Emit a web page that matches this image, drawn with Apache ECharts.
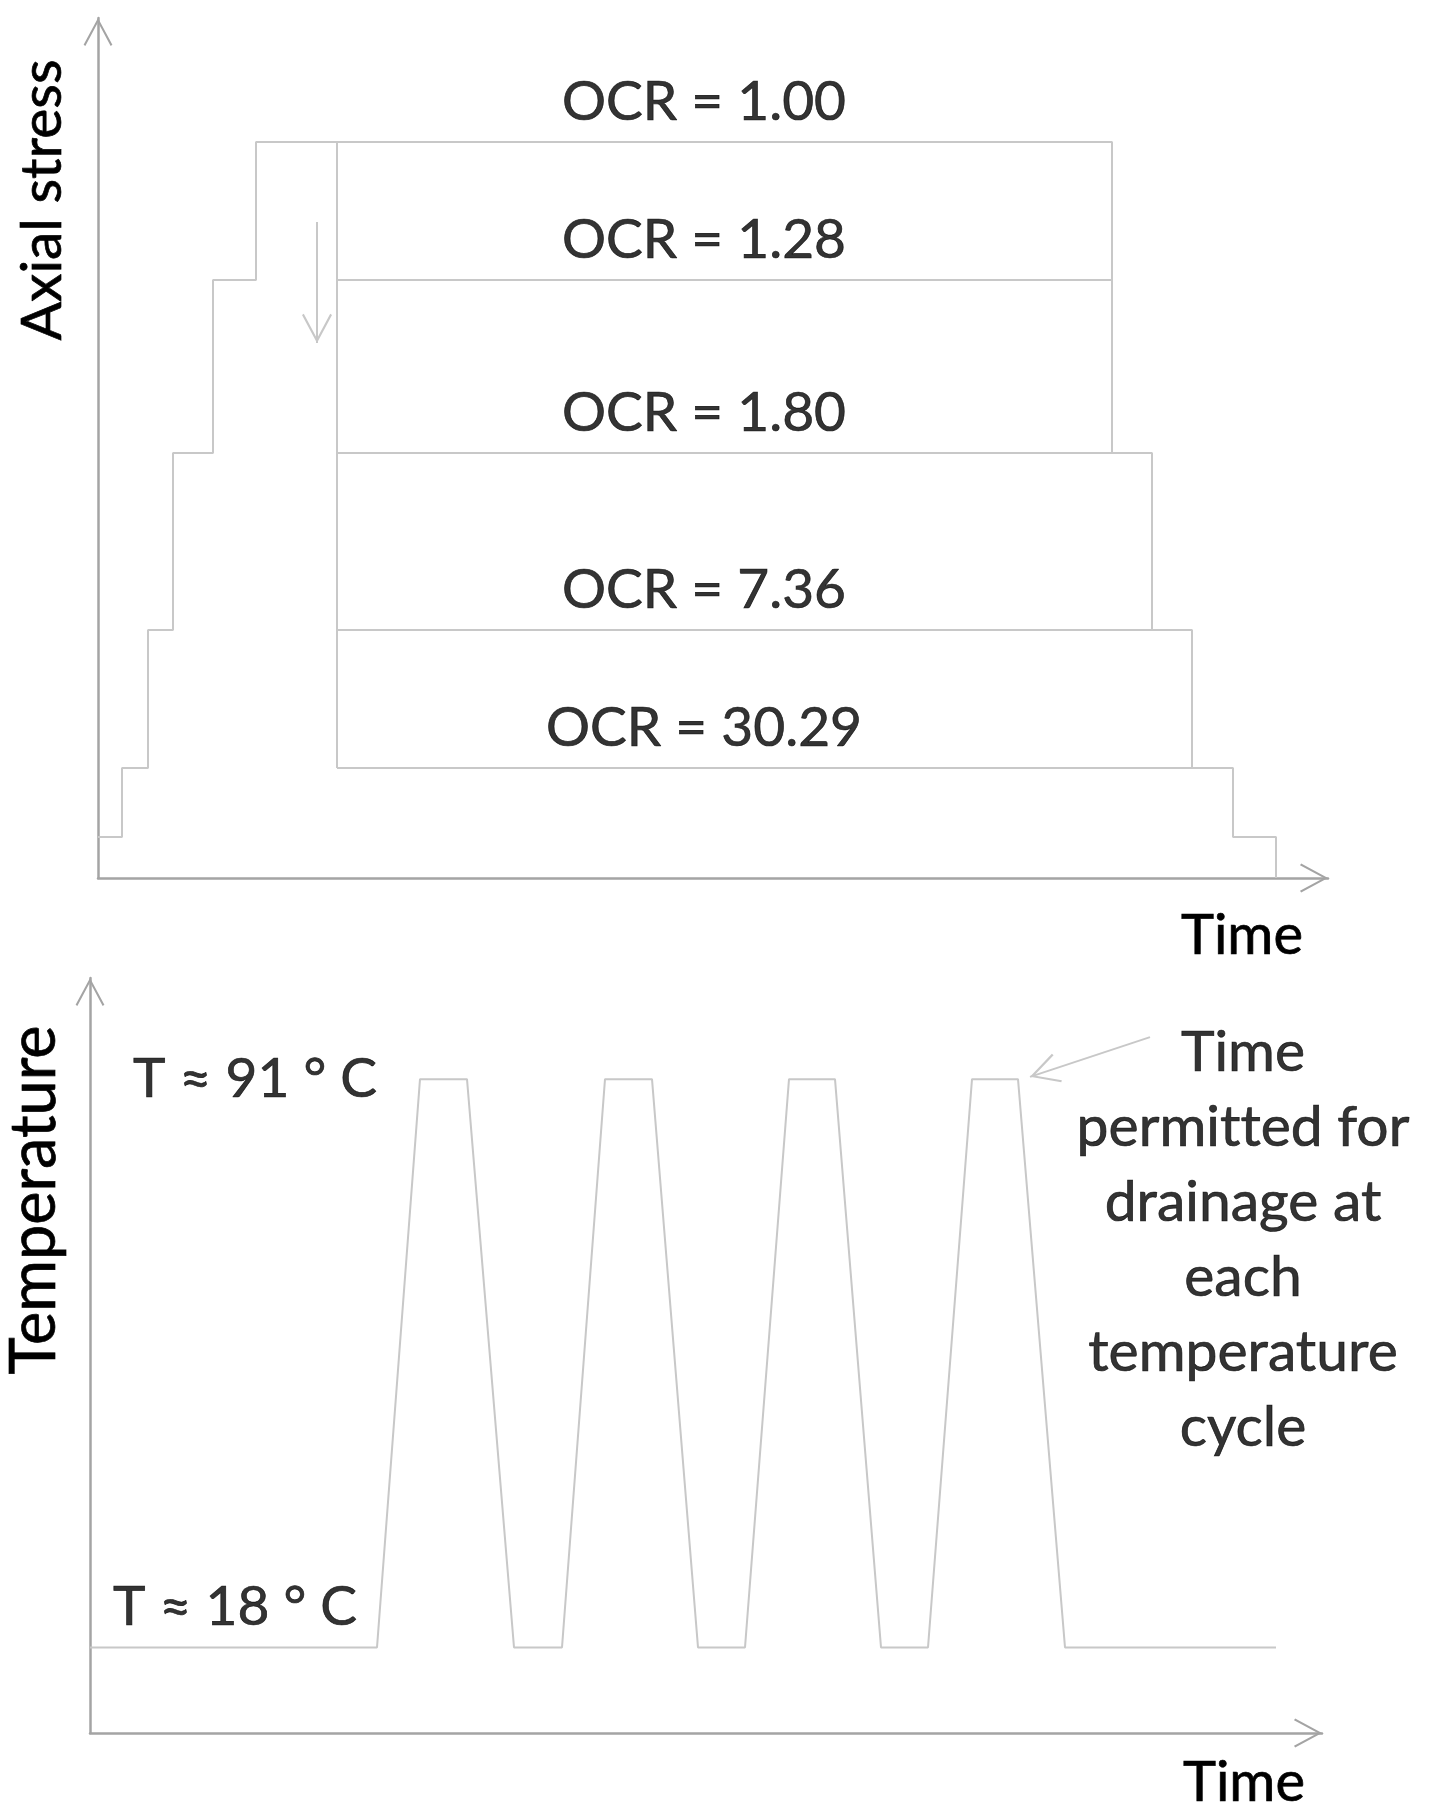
<!DOCTYPE html>
<html><head><meta charset="utf-8">
<script src="https://cdn.jsdelivr.net/npm/echarts@6/dist/echarts.min.js"></script>
<style>html,body{margin:0;padding:0;background:#fff}#c{width:1437px;height:1818px}</style>
</head><body><div id="c"></div>
<script>
// ---- Top panel: axial stress vs time (schematic units) ----
const stressLevels = [41, 110, 248, 425, 598, 736];
const loadStepTimes = [0, 24, 50, 75, 115, 158];
const unloadStepTimes = [1014, 1054, 1094, 1135, 1178];
const unloadStepLevels = [425, 248, 110, 41, 0];
const cycleStartTime = 239;
const ocrLabels = ['OCR = 1.00', 'OCR = 1.28', 'OCR = 1.80', 'OCR = 7.36', 'OCR = 30.29'];
const ocrLevels = [736, 598, 425, 248, 110];
const ocrLineEnds = [1014, 1014, 1054, 1094, 1135];
const ocrLabelTime = 606;
const unloadArrowTime = 219;
const unloadArrowStress = [656, 535];

// ---- Bottom panel: temperature (°C) vs time (schematic units) ----
const cycleTimes = [0, 287, 330, 377, 424, 472, 515, 562, 608, 655, 699, 745, 791, 838, 882, 928, 975, 1186];
const cycleTemps = [18, 18, 91, 91, 18, 18, 91, 91, 18, 18, 91, 91, 18, 18, 91, 91, 18, 18];
const tempLabels = ['T ≈ 91 ° C', 'T ≈ 18 ° C'];
const tempLabelTimes = [165, 145];
const tempLabelValues = [91, 18];
const noteLines = ['Time', 'permit\u200Cted for', 'drainage at', 'each', 'temperature', 'cycle'];
const notePoint = [1153, 70.3];
const noteArrowTimes = [1060, 940];
const noteArrowTemps = [96.4, 91.3];

// ---- styling ----
const LINE = '#c8c8c8';
const AXIS = '#a4a4a4';
const TEXT = '#000';
const FONT = 'Lato';
const TXT = { color: TEXT, fontFamily: FONT, textBorderColor: TEXT, textBorderWidth: 0.7 };
const CHEVRON = 'path://M15,0 L30,28 L28.2,29.2 L15,4.4 L1.8,29.2 L0,28 Z';
// same chevron, with its tip at the centre of the symbol box (tiny invisible anchor opposite)
const CHEVRON_C = 'path://M14.95,-29.2 L15.05,-29.2 L15,-29.15 Z M15,0 L30,28 L28.2,29.2 L15,4.4 L1.8,29.2 L0,28 Z';

// build top outline path
const outline = [];
for (let i = 0; i < stressLevels.length; i++) {
  outline.push([loadStepTimes[i], stressLevels[i]]);
  const next = i + 1 < loadStepTimes.length ? loadStepTimes[i + 1] : unloadStepTimes[0];
  outline.push([next, stressLevels[i]]);
}
for (let j = 0; j < unloadStepTimes.length; j++) {
  outline.push([unloadStepTimes[j], unloadStepLevels[j]]);
  if (j + 1 < unloadStepTimes.length) outline.push([unloadStepTimes[j + 1], unloadStepLevels[j]]);
}

function lineSeries(data, x, y, extra) {
  return Object.assign({
    type: 'line', xAxisIndex: x, yAxisIndex: y, data: data,
    showSymbol: false, symbol: 'none', silent: true, animation: false,
    lineStyle: { color: LINE, width: 2 }
  }, extra || {});
}
function arrowMark(xs, ys) {
  return {
    silent: true, animation: false,
    symbol: ['none', CHEVRON_C], symbolSize: [30, 58.4],
    label: { show: false },
    lineStyle: { color: LINE, width: 2, type: 'solid' },
    data: [[{ coord: [xs[0], ys[0]] }, { coord: [xs[1], ys[1]] }]]
  };
}

const series = [];
series.push(lineSeries(outline, 0, 0, {
  markLine: arrowMark([unloadArrowTime, unloadArrowTime], unloadArrowStress)
}));
series.push(lineSeries([[cycleStartTime, ocrLevels[0]], [cycleStartTime, ocrLevels[ocrLevels.length - 1]]], 0, 0));
for (let k = 1; k < ocrLevels.length; k++) {
  series.push(lineSeries([[cycleStartTime, ocrLevels[k]], [ocrLineEnds[k], ocrLevels[k]]], 0, 0));
}
series.push({
  type: 'scatter', xAxisIndex: 0, yAxisIndex: 0, silent: true, animation: false,
  symbol: 'circle', symbolSize: 1, itemStyle: { color: 'rgba(0,0,0,0)' },
  data: ocrLevels.map((v, i) => ({ value: [ocrLabelTime, v], name: ocrLabels[i] })),
  label: Object.assign({ show: true, position: 'top', distance: 12, formatter: p => p.name, fontSize: 55 }, TXT)
});

// bottom
series.push(lineSeries(cycleTimes.map((t, i) => [t, cycleTemps[i]]), 1, 1, {
  markLine: arrowMark(noteArrowTimes, noteArrowTemps)
}));
series.push({
  type: 'scatter', xAxisIndex: 1, yAxisIndex: 1, silent: true, animation: false,
  symbol: 'circle', symbolSize: 1, itemStyle: { color: 'rgba(0,0,0,0)' },
  data: tempLabels.map((s, i) => ({ value: [tempLabelTimes[i], tempLabelValues[i]], name: s,
    label: { position: i === 0 ? 'inside' : 'top', distance: 12 } })),
  label: Object.assign({ show: true, formatter: p => p.name, fontSize: 55 }, TXT)
});
series.push({
  type: 'scatter', xAxisIndex: 1, yAxisIndex: 1, silent: true, animation: false,
  symbol: 'circle', symbolSize: 1, itemStyle: { color: 'rgba(0,0,0,0)' },
  data: [{ value: notePoint, name: noteLines.join('\n') }],
  label: Object.assign({ show: true, position: 'inside', formatter: p => p.name, align: 'center',
    fontSize: 57, lineHeight: 75 }, TXT)
});

function axisLine() {
  return { show: true, onZero: false, symbol: ['none', CHEVRON], symbolSize: [30, 28], symbolOffset: [0, -14],
    lineStyle: { color: AXIS, width: 2.5 } };
}
const hidden = { axisTick: { show: false }, axisLabel: { show: false }, splitLine: { show: false } };

const option = {
  backgroundColor: '#fff',
  animation: false,
  grid: [
    { left: 98, right: 109, top: 18, bottom: 940 },
    { left: 90, right: 115, top: 978, bottom: 85 }
  ],
  xAxis: [
    Object.assign({ type: 'value', gridIndex: 0, min: 0, max: 1230, axisLine: axisLine(),
      name: 'Time', nameLocation: 'end', nameGap: -86,
      nameTextStyle: Object.assign({ align: 'center', verticalAlign: 'top', padding: [30, 0, 0, 0], fontSize: 56 }, TXT) }, hidden),
    Object.assign({ type: 'value', gridIndex: 1, min: 0, max: 1232, axisLine: axisLine(),
      name: 'Time', nameLocation: 'end', nameGap: -78,
      nameTextStyle: Object.assign({ align: 'center', verticalAlign: 'top', padding: [22, 0, 0, 0], fontSize: 56 }, TXT) }, hidden)
  ],
  yAxis: [
    Object.assign({ type: 'value', gridIndex: 0, min: 0, max: 860, axisLine: axisLine(),
      name: 'Axial stress', nameLocation: 'end', nameGap: -182, nameRotate: 90,
      nameTextStyle: Object.assign({ align: 'center', verticalAlign: 'bottom', padding: [0, 0, 27, 0], fontSize: 57 }, TXT) }, hidden),
    Object.assign({ type: 'value', gridIndex: 1, min: 7, max: 104, axisLine: axisLine(),
      name: 'Temperature', nameLocation: 'end', nameGap: -222, nameRotate: 90,
      nameTextStyle: Object.assign({ align: 'center', verticalAlign: 'bottom', padding: [0, 0, 24, 0], fontSize: 63 }, TXT) }, hidden)
  ],
  series: series
};
const chart = echarts.init(document.getElementById('c'), null, { renderer: 'canvas' });
chart.setOption(option);
</script></body></html>
